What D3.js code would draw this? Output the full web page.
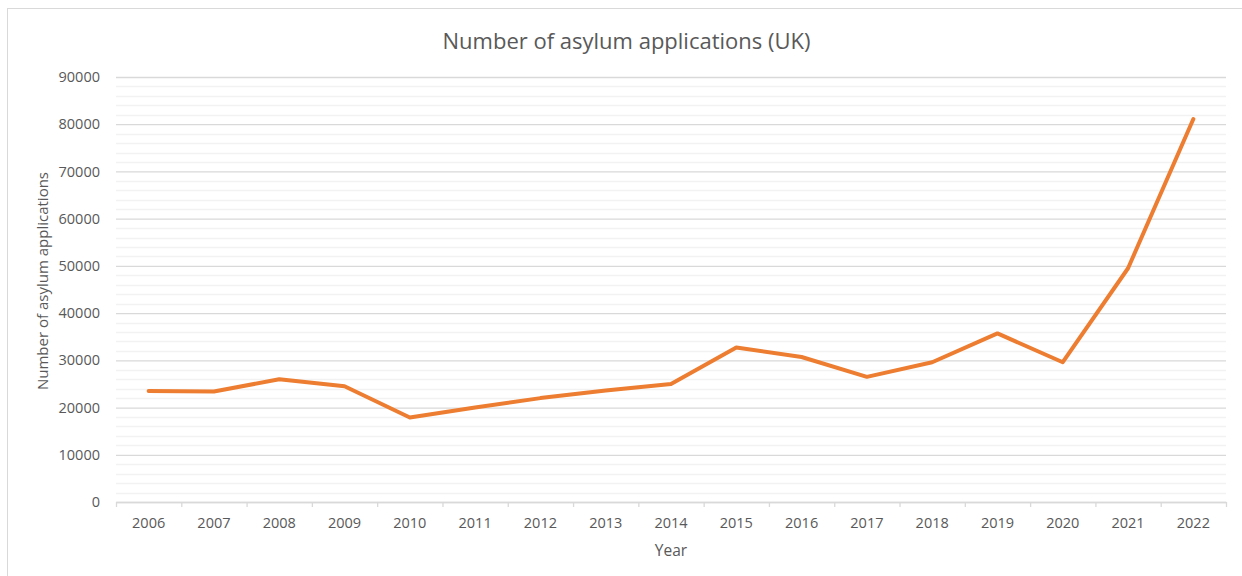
<!DOCTYPE html>
<html>
<head>
<meta charset="utf-8">
<script src="https://cdn.jsdelivr.net/npm/d3@7"></script>
<style>
  html, body { margin: 0; padding: 0; background: #fff; }
  svg { display: block; }
  text { font-family: "Open Sans", Lato, sans-serif; fill: #595959; }
</style>
</head>
<body>
<svg id="chart" width="1242" height="576"></svg>
<script>
// Asylum applications in the UK, 2006–2022
const years = ["2006","2007","2008","2009","2010","2011","2012","2013","2014",
               "2015","2016","2017","2018","2019","2020","2021","2022"];
const applications = [23500, 23400, 26000, 24500, 17900, 20000, 22000, 23600, 25000,
                      32700, 30700, 26500, 29600, 35700, 29600, 49500, 81100];
const yTicks = [0, 10000, 20000, 30000, 40000, 50000, 60000, 70000, 80000, 90000];

const W = 1242, H = 576;
const margin = { top: 77, right: 16, bottom: 74, left: 116 };
const plotW = W - margin.left - margin.right;
const plotH = H - margin.top - margin.bottom;
const FONT = "'Open Sans', Lato, sans-serif";

const svg = d3.select("#chart");

// chart frame
svg.append("rect")
  .attr("x", 7.5).attr("y", 8.5)
  .attr("width", 1400).attr("height", 700)
  .attr("fill", "#fff").attr("stroke", "#d9d9d9").attr("stroke-width", 1);

const g = svg.append("g").attr("transform", `translate(${margin.left},${margin.top})`);

const x = d3.scaleBand().domain(years).range([0, plotW]).padding(0);
const y = d3.scaleLinear().domain([0, 90000]).range([plotH, 0]);

// minor gridlines every 2000
g.append("g")
  .selectAll("line")
  .data(y.ticks(45).filter(v => v % 10000 !== 0))
  .join("line")
  .attr("x1", 0).attr("x2", plotW)
  .attr("y1", d => Math.round(y(d)) + 0.5).attr("y2", d => Math.round(y(d)) + 0.5)
  .attr("stroke", "#f2f2f2").attr("stroke-width", 1.3);

// major gridlines + y labels
const yAxis = g.append("g")
  .call(d3.axisLeft(y).tickValues(yTicks).tickSize(-plotW).tickPadding(16).tickFormat(d3.format("d")));
yAxis.select(".domain").remove();
yAxis.selectAll(".tick line")
  .attr("stroke", "#d9d9d9").attr("stroke-width", 1.3);
yAxis.selectAll(".tick text")
  .attr("font-size", 14.5).attr("fill", "#595959")
  .style("font-family", FONT);

// x axis: baseline, separators between categories, labels
const xAxis = g.append("g").attr("transform", `translate(0,${plotH})`)
  .call(d3.axisBottom(x).tickSize(0).tickPadding(16));
xAxis.select(".domain").attr("stroke", "#d9d9d9").attr("stroke-width", 1.3);
xAxis.selectAll(".tick text")
  .attr("font-size", 14.5).attr("fill", "#595959")
  .style("font-family", FONT);

const bounds = years.map(d => x(d)).concat([plotW]);
g.append("g").attr("transform", `translate(0,${plotH})`)
  .selectAll("line").data(bounds).join("line")
  .attr("x1", d => d + 0.5).attr("x2", d => d + 0.5)
  .attr("y1", 0).attr("y2", 5)
  .attr("stroke", "#d9d9d9").attr("stroke-width", 1.3);

// data line
const line = d3.line()
  .x((d, i) => x(years[i]) + x.bandwidth() / 2)
  .y(d => y(d));
g.append("path")
  .datum(applications)
  .attr("d", line)
  .attr("fill", "none")
  .attr("stroke", "#ED7D31")
  .attr("stroke-width", 4)
  .attr("stroke-linejoin", "round")
  .attr("stroke-linecap", "round");

// titles
svg.append("text")
  .attr("x", 626.5).attr("y", 49)
  .attr("text-anchor", "middle")
  .attr("font-size", 22)
  .text("Number of asylum applications (UK)");

svg.append("text")
  .attr("x", margin.left + plotW / 2).attr("y", 556)
  .attr("text-anchor", "middle")
  .attr("font-size", 15.5)
  .text("Year");

svg.append("text")
  .attr("transform", `translate(48,281) rotate(-90)`)
  .attr("text-anchor", "middle")
  .attr("font-size", 15)
  .text("Number of asylum applications");
</script>
</body>
</html>
